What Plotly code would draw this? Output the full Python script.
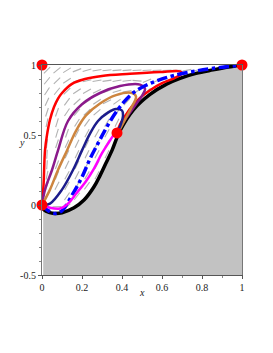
import numpy as np
import plotly.graph_objects as go

# ---- data ----
black_x = [0.0, 0.02, 0.06, 0.1, 0.16, 0.21, 0.26, 0.29, 0.32, 0.35, 0.39, 0.457, 0.54, 0.625, 0.69, 0.77, 0.855, 0.93, 1.0]
black_y = [-0.02, -0.045, -0.06, -0.055, -0.02, 0.035, 0.13, 0.21, 0.30, 0.39, 0.53, 0.68, 0.79, 0.865, 0.905, 0.94, 0.965, 0.985, 1.0]

red_x = [0.0, 0.008, 0.015, 0.025, 0.04, 0.06, 0.08, 0.1, 0.15, 0.215, 0.3, 0.44, 0.59, 0.69, 0.70, 0.66, 0.60, 0.54, 0.49, 0.45, 0.42, 0.39, 0.375]
red_y = [0.0, 0.15, 0.39, 0.5, 0.61, 0.7, 0.76, 0.8, 0.865, 0.9, 0.922, 0.937, 0.95, 0.955, 0.94, 0.905, 0.87, 0.82, 0.765, 0.705, 0.645, 0.575, 0.52]

purple_x = [0.0, 0.015, 0.05, 0.08, 0.13, 0.2, 0.29, 0.39, 0.49, 0.515, 0.50, 0.47, 0.435, 0.40, 0.38]
purple_y = [0.0, 0.11, 0.25, 0.39, 0.6, 0.72, 0.8, 0.85, 0.86, 0.83, 0.78, 0.72, 0.65, 0.58, 0.53]

orange_x = [0.0, 0.04, 0.08, 0.125, 0.17, 0.22, 0.29, 0.37, 0.45, 0.47, 0.445, 0.415, 0.385]
orange_y = [0.0, 0.11, 0.25, 0.39, 0.53, 0.64, 0.725, 0.785, 0.80, 0.775, 0.69, 0.61, 0.53]

navy_x = [0.0, 0.04, 0.1, 0.155, 0.2, 0.24, 0.28, 0.33, 0.37, 0.40, 0.405, 0.395, 0.38]
navy_y = [0.0, 0.01, 0.11, 0.25, 0.39, 0.51, 0.6, 0.66, 0.685, 0.675, 0.64, 0.58, 0.53]

magenta_x = [0.0, 0.04, 0.09, 0.13, 0.17, 0.22, 0.26, 0.3, 0.335, 0.365]
magenta_y = [0.0, -0.02, -0.025, 0.01, 0.08, 0.17, 0.26, 0.37, 0.45, 0.515]

blue_x = [0.0, 0.03, 0.065, 0.1, 0.15, 0.2, 0.24, 0.28, 0.31, 0.35, 0.4, 0.455, 0.52, 0.59, 0.66, 0.75, 0.85, 1.0]
blue_y = [0.0, -0.04, -0.06, -0.04, 0.07, 0.2, 0.33, 0.44, 0.52, 0.62, 0.72, 0.80, 0.855, 0.895, 0.925, 0.952, 0.975, 1.0]

dots_x = [0.0, 1.0, 0.0, 0.375]
dots_y = [1.0, 1.0, 0.0, 0.515]

x_ticks = [0, 0.2, 0.4, 0.6, 0.8, 1]
x_tick_labels = ["0", "0.2", "0.4", "0.6", "0.8", "1"]
y_ticks = [-0.5, 0, 0.5, 1]
y_tick_labels = ["-0.5", "0", "0.5", "1"]

fig = go.Figure()

# gray region below the black curve
fig.add_trace(go.Scatter(
    x=[0.006] + black_x[1:] + [1.0, 0.006],
    y=[0.0] + black_y[1:] + [-0.5, -0.5],
    fill="toself", fillcolor="#c2c2c2", line=dict(width=0),
    mode="lines", hoverinfo="skip", showlegend=False))

# direction field: oriented along the nearest traced curves
curves = [(red_x, red_y), (purple_x, purple_y), (orange_x, orange_y),
          (navy_x, navy_y), (magenta_x, magenta_y), (blue_x, blue_y),
          (black_x, black_y)]
segs = []
for cx, cy in curves:
    for i in range(len(cx) - 1):
        segs.append((cx[i], cy[i], cx[i + 1], cy[i + 1]))
segs = np.array(segs)
SX, SY = 200.0, 140.0
fx, fy = [], []
for gx in np.arange(0.025, 1.0, 0.05):
    for gy in np.arange(-0.4625, 1.0, 0.075):
        if gy <= np.interp(gx, black_x, black_y) + 0.02 or gy > 0.985:
            continue
        px, py = gx * SX, gy * SY
        ax, ay = segs[:, 0] * SX, segs[:, 1] * SY
        bx, by = segs[:, 2] * SX, segs[:, 3] * SY
        dx, dy = bx - ax, by - ay
        L2 = dx * dx + dy * dy + 1e-9
        t = np.clip(((px - ax) * dx + (py - ay) * dy) / L2, 0, 1)
        d = (ax + t * dx - px) ** 2 + (ay + t * dy - py) ** 2
        w = 1.0 / (d + 4.0) ** 2
        ang = np.arctan2(dy, dx)
        c = np.sum(w * np.cos(2 * ang)); s = np.sum(w * np.sin(2 * ang))
        a = 0.5 * np.arctan2(s, c)
        h = 4.5
        fx += [gx - h * np.cos(a) / SX, gx + h * np.cos(a) / SX, None]
        fy += [gy - h * np.sin(a) / SY, gy + h * np.sin(a) / SY, None]
fig.add_trace(go.Scatter(x=fx, y=fy, mode="lines",
                         line=dict(color="#b2b2b2", width=1.1),
                         hoverinfo="skip", showlegend=False))

def add_line(x, y, color, width, dash="solid"):
    fig.add_trace(go.Scatter(x=x, y=y, mode="lines",
                             line=dict(color=color, width=width, dash=dash, shape="spline", smoothing=1.0),
                             hoverinfo="skip", showlegend=False, cliponaxis=False))

add_line(black_x, black_y, "black", 3.5)
add_line(red_x, red_y, "#ff0000", 2.5)
add_line(purple_x, purple_y, "#8b1a8b", 2.5)
add_line(orange_x, orange_y, "#cd853f", 2.5)
add_line(navy_x, navy_y, "#1c1c8c", 2.5)
add_line(blue_x, blue_y, "#0000ff", 3.5, "dashdot")
add_line(magenta_x, magenta_y, "#ff00ff", 2.5)

fig.add_trace(go.Scatter(x=dots_x, y=dots_y, mode="markers",
                         marker=dict(color="#ff0000", size=11),
                         hoverinfo="skip", showlegend=False, cliponaxis=False))

axis_font = dict(family="Liberation Serif, Times New Roman, serif", size=10, color="#222")
fig.update_layout(
    width=273, height=353,
    margin=dict(l=34, r=39, t=57, b=86),
    paper_bgcolor="white", plot_bgcolor="white",
    xaxis=dict(range=[0, 1], tickvals=x_ticks, ticktext=x_tick_labels, automargin=False,
               showgrid=False, zeroline=False, showline=True, linecolor="#555",
               linewidth=1.2, mirror=True, ticks="outside", ticklen=3, tickcolor="#555",
               tickfont=axis_font,
               minor=dict(ticks="outside", ticklen=2, tickcolor="#888", dtick=0.1)),
    yaxis=dict(range=[-0.5, 1], tickvals=y_ticks, ticktext=y_tick_labels, automargin=False,
               showgrid=False, zeroline=False, showline=True, linecolor="#777",
               linewidth=1.2, mirror=True, ticks="outside", ticklen=3, tickcolor="#555",
               tickfont=axis_font,
               minor=dict(ticks="outside", ticklen=2, tickcolor="#888", dtick=0.1)),
    annotations=[
        dict(text="<i>x</i>", x=0.5, y=-0.5, xref="x", yref="y", yshift=-17,
             showarrow=False, font=axis_font),
        dict(text="<i>y</i>", x=-0.125, y=0.629, xref="paper", yref="paper",
             showarrow=False, font=axis_font),
    ],
)

fig.write_html("out.html")
